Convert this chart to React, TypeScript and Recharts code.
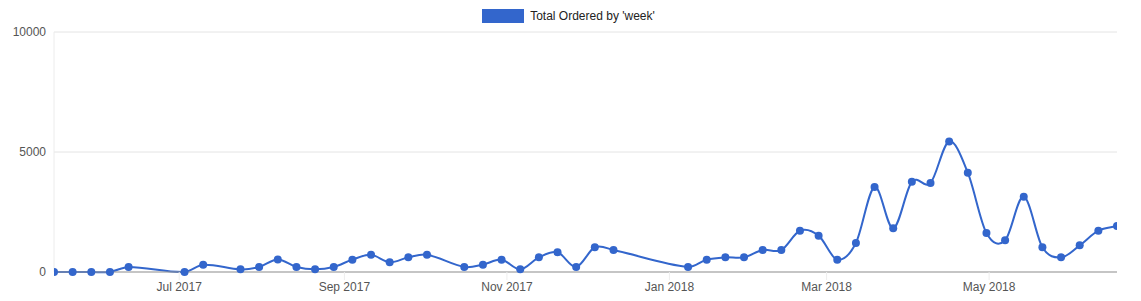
import React from "react";
import { LineChart, Line, XAxis, YAxis, CartesianGrid } from "recharts";

const weeks: string[] = [
  "2017-05-15", "2017-05-22", "2017-05-29", "2017-06-05", "2017-06-12",
  "2017-07-03", "2017-07-10", "2017-07-24", "2017-07-31", "2017-08-07",
  "2017-08-14", "2017-08-21", "2017-08-28", "2017-09-04", "2017-09-11",
  "2017-09-18", "2017-09-25", "2017-10-02", "2017-10-16", "2017-10-23",
  "2017-10-30", "2017-11-06", "2017-11-13", "2017-11-20", "2017-11-27",
  "2017-12-04", "2017-12-11", "2018-01-08", "2018-01-15", "2018-01-22",
  "2018-01-29", "2018-02-05", "2018-02-12", "2018-02-19", "2018-02-26",
  "2018-03-05", "2018-03-12", "2018-03-19", "2018-03-26", "2018-04-02",
  "2018-04-09", "2018-04-16", "2018-04-23", "2018-04-30", "2018-05-07",
  "2018-05-14", "2018-05-21", "2018-05-28", "2018-06-04", "2018-06-11",
  "2018-06-18",
];

const totalOrdered: number[] = [
  0, 0, 0, 0, 210,
  0, 305, 110, 210, 525,
  210, 110, 210, 515, 715,
  405, 610, 720, 210, 305,
  515, 110, 610, 820, 210,
  1030, 915, 210, 515, 610,
  610, 915, 915, 1720, 1515,
  515, 1210, 3540, 1820, 3760,
  3710, 5440, 4140, 1625, 1320,
  3140, 1030, 610, 1110, 1720,
  1915,
];

const xTickDates: string[] = ["2017-07-01", "2017-09-01", "2017-11-01", "2018-01-01", "2018-03-01", "2018-05-01"];
const yTicks: number[] = [0, 5000, 10000];
const domainDates: string[] = ["2017-05-15", "2018-06-18"];
const monthNames: string[] = ["Jan", "Feb", "Mar", "Apr", "May", "Jun", "Jul", "Aug", "Sep", "Oct", "Nov", "Dec"];
const seriesName = "Total Ordered by 'week'";

const toTs = (s: string) => {
  const [y, m, d] = s.split("-").map(Number);
  return Date.UTC(y, m - 1, d);
};

const data = weeks.map((w, i) => ({ t: toTs(w), v: totalOrdered[i] }));
const xTicks = xTickDates.map(toTs);
const xDomain = domainDates.map(toTs);

const fmtTick = (ts: number) => {
  const d = new Date(ts);
  return `${monthNames[d.getUTCMonth()]} ${d.getUTCFullYear()}`;
};

// Smooth cubic Hermite curve (finite differences in x) similar to Google's "function" curve
function smoothCurve(context: any) {
  let xs: number[] = [];
  let ys: number[] = [];
  return {
    areaStart() {},
    areaEnd() {},
    lineStart() {
      xs = [];
      ys = [];
    },
    point(x: number, y: number) {
      xs.push(+x);
      ys.push(+y);
    },
    lineEnd() {
      const n = xs.length;
      if (n === 0) return;
      context.moveTo(xs[0], ys[0]);
      if (n === 1) return;
      const m: number[] = new Array(n);
      for (let i = 0; i < n; i++) {
        if (i === 0) m[i] = (ys[1] - ys[0]) / (xs[1] - xs[0]);
        else if (i === n - 1) m[i] = (ys[n - 1] - ys[n - 2]) / (xs[n - 1] - xs[n - 2]);
        else m[i] = (ys[i + 1] - ys[i - 1]) / (xs[i + 1] - xs[i - 1]);
      }
      for (let i = 0; i < n - 1; i++) {
        const dx = (xs[i + 1] - xs[i]) / 3;
        context.bezierCurveTo(
          xs[i] + dx,
          ys[i] + m[i] * dx,
          xs[i + 1] - dx,
          ys[i + 1] - m[i + 1] * dx,
          xs[i + 1],
          ys[i + 1]
        );
      }
    },
  };
}

const font = "'Liberation Sans', Arial, sans-serif";

export default function App() {
  return (
    <div style={{ position: "absolute", left: 0, top: 0, width: 1141, height: 301, background: "#fff" }}>
      <div
        style={{
          position: "absolute",
          top: 9,
          left: 0,
          width: 1141,
          height: 14,
          display: "flex",
          justifyContent: "center",
          alignItems: "center",
          fontFamily: font,
          fontSize: 12,
          color: "#222",
          marginLeft: -2,
        }}
      >
        <span style={{ display: "inline-block", width: 42, height: 14, background: "#3366cc", marginRight: 6 }} />
        <span>{seriesName}</span>
      </div>
      <LineChart
        width={1141}
        height={301}
        data={data}
        margin={{ top: 32, right: 24, bottom: 0, left: 0 }}
      >
        <CartesianGrid vertical={false} stroke="#e4e4e4" strokeDasharray="" />
        <XAxis
          dataKey="t"
          type="number"
          scale="time"
          domain={xDomain}
          ticks={xTicks}
          tickFormatter={fmtTick}
          allowDataOverflow
          height={29}
          stroke="#999"
          tickLine={{ stroke: "#eee" }}
          tickSize={8}
          tickMargin={2}
          tick={{ fill: "#555", fontSize: 12, fontFamily: font }}
        />
        <YAxis
          type="number"
          domain={[0, 10000]}
          ticks={yTicks}
          width={54}
          axisLine={{ stroke: "#ececec" }}
          tickLine={false}
          tick={{ fill: "#555", fontSize: 12, fontFamily: font }}
        />
        <Line
          dataKey="v"
          name={seriesName}
          type={smoothCurve as any}
          stroke="#3366cc"
          strokeWidth={2}
          dot={{ r: 4, fill: "#3366cc", stroke: "none" }}
          isAnimationActive={false}
        />
      </LineChart>
    </div>
  );
}
